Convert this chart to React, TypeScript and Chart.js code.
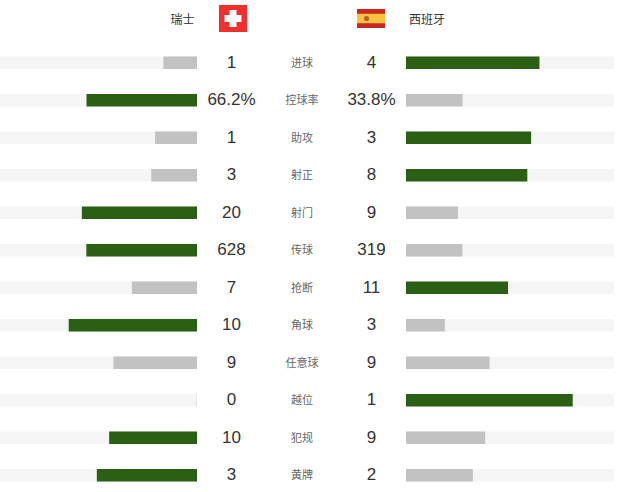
import React, { useEffect, useRef } from "react";
import { Chart, registerables } from "chart.js";

Chart.register(...registerables);

const categories = ["进球", "控球率", "助攻", "射正", "射门", "传球", "抢断", "角球", "任意球", "越位", "犯规", "黄牌"];
const homeLabels = ["1", "66.2%", "1", "3", "20", "628", "7", "10", "9", "0", "10", "3"];
const awayLabels = ["4", "33.8%", "3", "8", "9", "319", "11", "3", "9", "1", "9", "2"];
const homeShare = [20, 66.2, 25, 27.3, 69, 66.3, 38.9, 76.9, 50, 0, 52.6, 60];
const awayShare = [80, 33.8, 75, 72.7, 31, 33.7, 61.1, 23.1, 50, 100, 47.4, 40];
const trackValues = categories.map(() => 125);

const GREEN = "#2a5f14";
const GREY = "#c2c2c2";
const TRACK = "#f5f5f5";
const ROW = 37.5;
const TOP = 43.75;

function colours(mine: number[], other: number[]) {
  return mine.map((v, i) => (v > other[i] ? GREEN : GREY));
}

function Panel(props: { share: number[]; other: number[]; reverse: boolean; left: number }) {
  const ref = useRef<HTMLCanvasElement>(null);
  useEffect(() => {
    const chart = new Chart(ref.current!, {
      type: "bar",
      data: {
        labels: categories,
        datasets: [
          {
            data: props.share,
            backgroundColor: colours(props.share, props.other),
            barThickness: 12,
            order: 1,
          },
          {
            data: trackValues,
            backgroundColor: TRACK,
            barThickness: 12,
            order: 2,
          },
        ],
      },
      options: {
        indexAxis: "y",
        responsive: false,
        animation: false,
        layout: { padding: 0 },
        plugins: { legend: { display: false }, tooltip: { enabled: false } },
        datasets: { bar: { grouped: false } },
        scales: {
          x: { display: false, min: 0, max: 125, reverse: props.reverse },
          y: { display: false },
        },
      } as any,
    });
    return () => chart.destroy();
  }, []);
  return (
    <canvas
      ref={ref}
      width={208}
      height={ROW * categories.length}
      style={{ position: "absolute", left: props.left, top: TOP, display: "block" }}
    />
  );
}

const textBase: React.CSSProperties = {
  position: "absolute",
  transform: "translate(-50%, -50%)",
  whiteSpace: "nowrap",
  lineHeight: 1,
};
const latin = '"Liberation Sans", "Noto Sans CJK SC", sans-serif';
const cjk = '"Noto Sans CJK SC", sans-serif';

export default function App() {
  return (
    <div style={{ position: "absolute", left: 0, top: 0, width: 640, height: 492, overflow: "hidden", background: "#fff" }}>
      <Panel share={homeShare} other={awayShare} reverse={true} left={-11} />
      <Panel share={awayShare} other={homeShare} reverse={false} left={406} />

      <div style={{ ...textBase, left: 182.5, top: 19, fontFamily: cjk, fontSize: 12, color: "#333" }}>瑞士</div>
      <div style={{ ...textBase, left: 427, top: 19, fontFamily: cjk, fontSize: 12, color: "#333" }}>西班牙</div>

      <svg width={28} height={27} viewBox="0 0 28 27" style={{ position: "absolute", left: 219, top: 5 }}>
        <rect width={28} height={27} fill="#f0302d" />
        <rect x={10.5} y={5} width={7} height={17} fill="#fff" />
        <rect x={5.5} y={10} width={17} height={7} fill="#fff" />
      </svg>
      <svg width={28} height={19} viewBox="0 0 28 19" style={{ position: "absolute", left: 356.5, top: 9 }}>
        <rect width={28} height={19} fill="#c8281f" />
        <rect y={4.75} width={28} height={9.5} fill="#fbc03f" />
        <circle cx={9.5} cy={9.5} r={2.6} fill="#b9602a" />
      </svg>

      {categories.map((c, i) => {
        const y = TOP + ROW * (i + 0.5);
        return (
          <React.Fragment key={c}>
            <div style={{ ...textBase, left: 231.5, top: y - 1, fontFamily: latin, fontSize: 17, color: "#333" }}>{homeLabels[i]}</div>
            <div style={{ ...textBase, left: 302, top: y - 0.75, fontFamily: cjk, fontSize: 11, color: "#666" }}>{c}</div>
            <div style={{ ...textBase, left: 371.5, top: y - 1, fontFamily: latin, fontSize: 17, color: "#333" }}>{awayLabels[i]}</div>
          </React.Fragment>
        );
      })}
    </div>
  );
}
